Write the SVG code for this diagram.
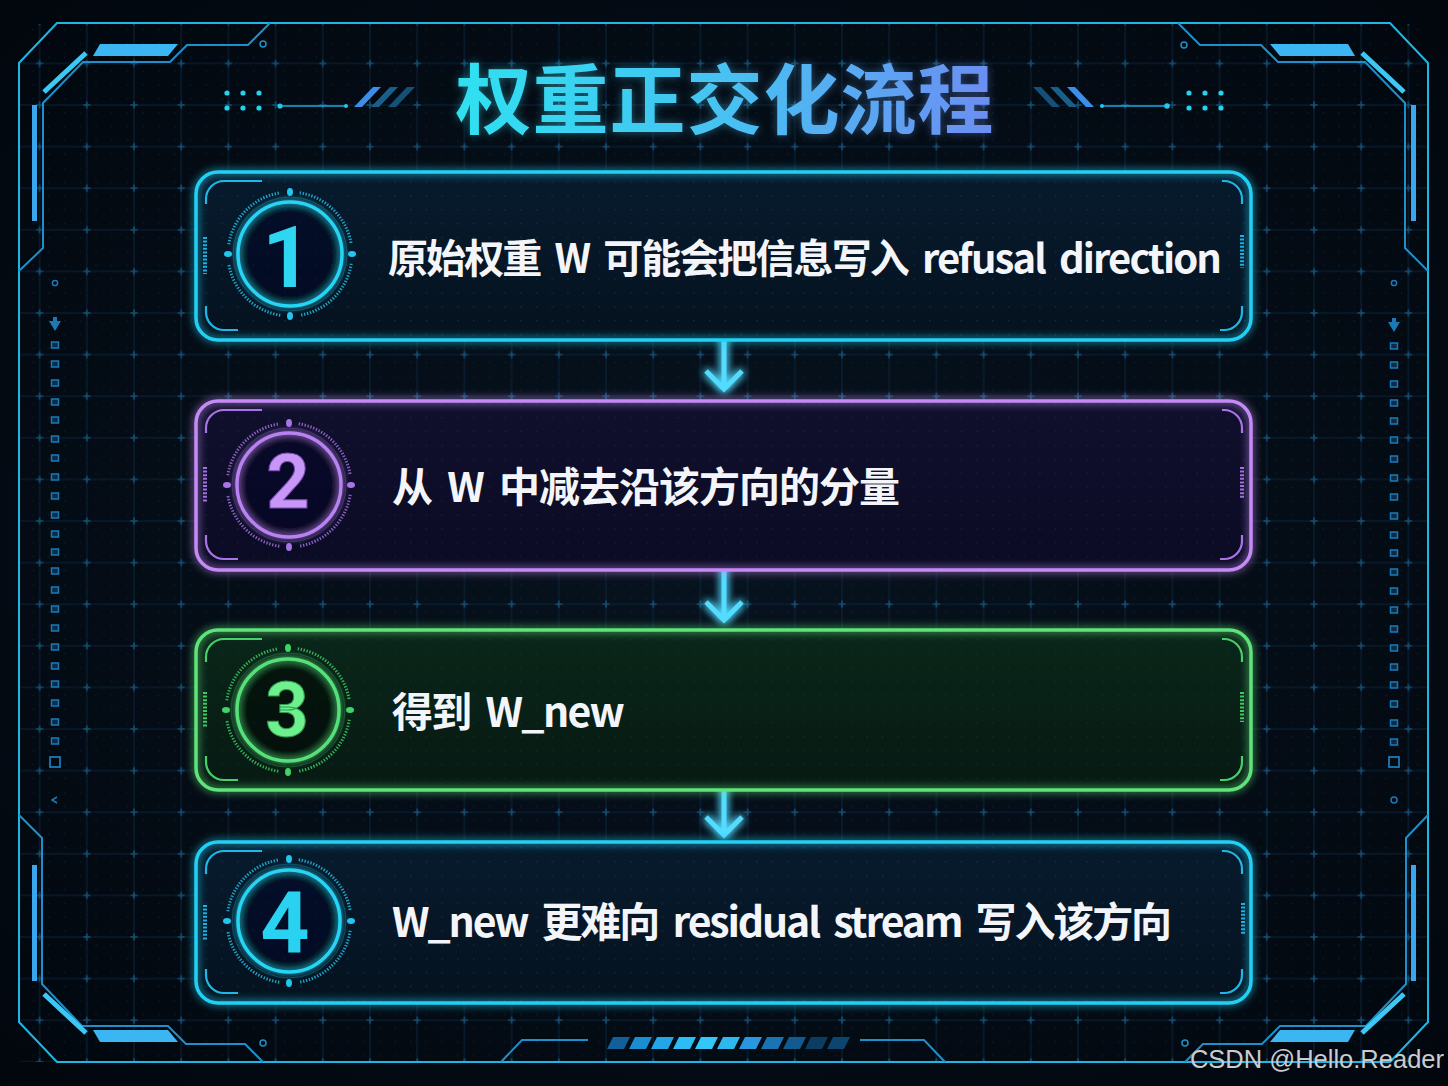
<svg xmlns="http://www.w3.org/2000/svg" xmlns:xlink="http://www.w3.org/1999/xlink" width="1448" height="1086" viewBox="0 0 1448 1086">
<defs>
<style>
.fr{fill:none;stroke:#1fb6e2;stroke-width:2}
.frb{fill:none;stroke:#1e8fc8;stroke-width:2}
.acc{fill:#3cb6f2}
.sq{fill:#0a2c48;stroke:#1b7ab6;stroke-width:1.5}
.txt{font-family:"Noto Sans CJK SC","Noto Sans",sans-serif;font-weight:700;fill:#f3f5f9;word-spacing:7px}
.num{font-family:Roboto,"Liberation Sans",sans-serif;font-weight:700;text-anchor:middle}
.br{fill:none;stroke-width:2.2}
.bc{stroke-width:4;stroke-dasharray:2 1.6}
.arr{fill:none;stroke:#52dcff;stroke-width:5;stroke-linecap:butt;stroke-linejoin:miter}
</style>
<radialGradient id="bg" cx="50%" cy="50%" r="70%">
<stop offset="0" stop-color="#07131f"/>
<stop offset="1" stop-color="#02070e"/>
</radialGradient>
<linearGradient id="tg" x1="458" y1="0" x2="992" y2="0" gradientUnits="userSpaceOnUse">
<stop offset="0" stop-color="#2fe0f0"/>
<stop offset="0.5" stop-color="#47c2f2"/>
<stop offset="1" stop-color="#6c8ef2"/>
</linearGradient>
<linearGradient id="f1" x1="0" y1="0" x2="0" y2="1"><stop offset="0" stop-color="#071b2e"/><stop offset="1" stop-color="#05121f"/></linearGradient>
<linearGradient id="f2" x1="0" y1="0" x2="0" y2="1"><stop offset="0" stop-color="#10102e"/><stop offset="1" stop-color="#0b0b24"/></linearGradient>
<linearGradient id="f3" x1="0" y1="0" x2="0" y2="1"><stop offset="0" stop-color="#0a2619"/><stop offset="1" stop-color="#071a13"/></linearGradient>
<pattern id="grid" x="63.2" y="84.2" width="47.2" height="41.6" patternUnits="userSpaceOnUse">
<path d="M23.6,0 V41.6 M0,20.8 H47.2" stroke="#0a243b" stroke-width="1"/>
<path d="M20.1,20.8 H27.1 M23.6,17.3 V24.3" stroke="#134f75" stroke-width="1.6"/>
</pattern>
<pattern id="fine" x="1" y="1" width="15.73" height="13.87" patternUnits="userSpaceOnUse">
<rect width="1.4" height="1.4" fill="#123a58"/>
</pattern>
<filter id="glow" x="-10%" y="-30%" width="120%" height="160%">
<feGaussianBlur in="SourceGraphic" stdDeviation="4" result="b"/>
<feMerge><feMergeNode in="b"/><feMergeNode in="SourceGraphic"/></feMerge>
</filter>
<filter id="glowS" x="-50%" y="-50%" width="200%" height="200%">
<feGaussianBlur in="SourceGraphic" stdDeviation="3" result="b"/>
<feMerge><feMergeNode in="b"/><feMergeNode in="SourceGraphic"/></feMerge>
</filter>
<filter id="glowT" x="-10%" y="-30%" width="120%" height="160%">
<feGaussianBlur in="SourceGraphic" stdDeviation="5" result="b"/>
<feComponentTransfer in="b" result="c"><feFuncA type="linear" slope="0.45"/></feComponentTransfer>
<feMerge><feMergeNode in="c"/><feMergeNode in="SourceGraphic"/></feMerge>
</filter>
<filter id="glowA" x="-150%" y="-50%" width="400%" height="200%">
<feGaussianBlur in="SourceGraphic" stdDeviation="4" result="b"/>
<feMerge><feMergeNode in="b"/><feMergeNode in="b"/><feMergeNode in="SourceGraphic"/></feMerge>
</filter>
<g id="ring">
<circle r="57" fill="none" stroke="currentColor" stroke-width="1" opacity="0.25"/>
<path d="M61.24,9.7 A62,62 0 0 1 9.7,61.24 M-9.7,61.24 A62,62 0 0 1 -61.24,9.7 M-61.24,-9.7 A62,62 0 0 1 -9.7,-61.24 M9.7,-61.24 A62,62 0 0 1 61.24,-9.7" fill="none" stroke="currentColor" stroke-width="3" stroke-dasharray="1.4 1.6" opacity="0.8"/>
<ellipse cx="0" cy="-62" rx="3" ry="4" fill="currentColor"/>
<ellipse cx="0" cy="62" rx="3" ry="4" fill="currentColor"/>
<ellipse cx="-62" cy="0" rx="4" ry="3" fill="currentColor"/>
<ellipse cx="62" cy="0" rx="4" ry="3" fill="currentColor"/>
</g>
</defs>

<!-- background -->
<rect width="1448" height="1086" fill="url(#bg)"/>
<rect x="20" y="24" width="1408" height="1038" fill="url(#fine)" opacity="0.4"/>
<rect x="20" y="24" width="1408" height="1038" fill="url(#grid)"/>

<!-- frame -->
<g id="frame">
<path class="fr" d="M57,23 H1390 L1428,63 V1022 L1390,1062 H57 L19,1022 V63 Z"/>
<path class="frb" d="M270,23 L248,45 H187 L170,62 H83 L43,103 V248 L19,271"/>
<path class="frb" d="M1178,23 L1200,45 H1261 L1278,62 H1365 L1405,103 V248 L1428,271"/>
<path class="frb" d="M263,1062 L245,1044 H186 L168,1026 H82 L42,984 V838 L19,815"/>
<path class="frb" d="M1185,1062 L1203,1044 H1262 L1280,1026 H1366 L1406,984 V838 L1428,815"/>
<path class="frb" d="M501,1062 L522,1040 H588 M860,1040 H924 L945,1062"/>
<polygon class="acc" points="100,44 178,44 168,56 93,56"/>
<polygon class="acc" points="1270,44 1348,44 1355,56 1280,56"/>
<polygon class="acc" points="93,1030 168,1030 178,1042 100,1042"/>
<polygon class="acc" points="1280,1030 1355,1030 1348,1042 1270,1042"/>
<path d="M86,53 L44,92 M1362,53 L1404,92 M86,1033 L44,994 M1362,1033 L1404,994" stroke="#3cc8f4" stroke-width="5"/>
<rect x="32" y="105" width="5" height="116" fill="#3aa6ee"/>
<rect x="1411" y="105" width="5" height="116" fill="#3aa6ee"/>
<rect x="32" y="865" width="5" height="116" fill="#3aa6ee"/>
<rect x="1411" y="865" width="5" height="116" fill="#3aa6ee"/>
<g fill="none" stroke="#1e8fc8" stroke-width="1.5">
<circle cx="263" cy="44" r="3"/>
<circle cx="1184" cy="45" r="3"/>
<circle cx="263" cy="1043" r="3"/>
<circle cx="1185" cy="1043" r="3"/>
</g>
<g>
<polygon points="607,1049 613,1037 630,1037 624,1049" fill="#11609a"/>
<polygon points="629,1049 635,1037 652,1037 646,1049" fill="#1a8ed2"/>
<polygon points="651,1049 657,1037 674,1037 668,1049" fill="#22a6e8"/>
<polygon points="673,1049 679,1037 696,1037 690,1049" fill="#2cbdf4"/>
<polygon points="695,1049 701,1037 718,1037 712,1049" fill="#33c6f6"/>
<polygon points="717,1049 723,1037 740,1037 734,1049" fill="#2eb8f0"/>
<polygon points="739,1049 745,1037 762,1037 756,1049" fill="#2a96e0"/>
<polygon points="761,1049 767,1037 784,1037 778,1049" fill="#1a74b4"/>
<polygon points="783,1049 789,1037 806,1037 800,1049" fill="#125a90"/>
<polygon points="805,1049 811,1037 828,1037 822,1049" fill="#0b3c62"/>
<polygon points="827,1049 833,1037 850,1037 844,1049" fill="#0c4670"/>
</g>
</g>

<!-- side markers -->
<g id="side-left">
<circle cx="55" cy="283" r="2.6" fill="none" stroke="#1b7ab6" stroke-width="1.5"/>
<path d="M49,321 H61 L55,331 Z M53,317 H57 V325 H53 Z" fill="#1b7ab6"/>
<rect class="sq" x="51.5" y="342" width="7" height="6"/><rect class="sq" x="51.5" y="361" width="7" height="6"/><rect class="sq" x="51.5" y="380" width="7" height="6"/><rect class="sq" x="51.5" y="399" width="7" height="6"/><rect class="sq" x="51.5" y="417" width="7" height="6"/><rect class="sq" x="51.5" y="436" width="7" height="6"/><rect class="sq" x="51.5" y="455" width="7" height="6"/><rect class="sq" x="51.5" y="474" width="7" height="6"/><rect class="sq" x="51.5" y="493" width="7" height="6"/><rect class="sq" x="51.5" y="512" width="7" height="6"/><rect class="sq" x="51.5" y="531" width="7" height="6"/><rect class="sq" x="51.5" y="549" width="7" height="6"/><rect class="sq" x="51.5" y="568" width="7" height="6"/><rect class="sq" x="51.5" y="587" width="7" height="6"/><rect class="sq" x="51.5" y="606" width="7" height="6"/><rect class="sq" x="51.5" y="625" width="7" height="6"/><rect class="sq" x="51.5" y="644" width="7" height="6"/><rect class="sq" x="51.5" y="663" width="7" height="6"/><rect class="sq" x="51.5" y="681" width="7" height="6"/><rect class="sq" x="51.5" y="700" width="7" height="6"/><rect class="sq" x="51.5" y="719" width="7" height="6"/><rect class="sq" x="51.5" y="738" width="7" height="6"/>
<rect x="50" y="757" width="10" height="10" fill="none" stroke="#1b7ab6" stroke-width="1.8"/>
<path d="M57,797 L52,800 L57,803" fill="none" stroke="#1b7ab6" stroke-width="1.5"/>
</g>
<g id="side-right">
<circle cx="1394" cy="283" r="2.6" fill="none" stroke="#1b7ab6" stroke-width="1.5"/>
<path d="M1388,322 H1400 L1394,332 Z M1392,318 H1396 V326 H1392 Z" fill="#1b7ab6"/>
<rect class="sq" x="1390.5" y="343" width="7" height="6"/><rect class="sq" x="1390.5" y="362" width="7" height="6"/><rect class="sq" x="1390.5" y="381" width="7" height="6"/><rect class="sq" x="1390.5" y="400" width="7" height="6"/><rect class="sq" x="1390.5" y="418" width="7" height="6"/><rect class="sq" x="1390.5" y="437" width="7" height="6"/><rect class="sq" x="1390.5" y="456" width="7" height="6"/><rect class="sq" x="1390.5" y="475" width="7" height="6"/><rect class="sq" x="1390.5" y="494" width="7" height="6"/><rect class="sq" x="1390.5" y="513" width="7" height="6"/><rect class="sq" x="1390.5" y="532" width="7" height="6"/><rect class="sq" x="1390.5" y="550" width="7" height="6"/><rect class="sq" x="1390.5" y="569" width="7" height="6"/><rect class="sq" x="1390.5" y="588" width="7" height="6"/><rect class="sq" x="1390.5" y="607" width="7" height="6"/><rect class="sq" x="1390.5" y="626" width="7" height="6"/><rect class="sq" x="1390.5" y="645" width="7" height="6"/><rect class="sq" x="1390.5" y="664" width="7" height="6"/><rect class="sq" x="1390.5" y="682" width="7" height="6"/><rect class="sq" x="1390.5" y="701" width="7" height="6"/><rect class="sq" x="1390.5" y="720" width="7" height="6"/><rect class="sq" x="1390.5" y="739" width="7" height="6"/>
<rect x="1389" y="757" width="10" height="10" fill="none" stroke="#1b7ab6" stroke-width="1.8"/>
<circle cx="1394" cy="800" r="3" fill="none" stroke="#1b7ab6" stroke-width="1.5"/>
</g>

<!-- title -->
<g id="title">
<g fill="#22d3ee">
<circle cx="227" cy="93" r="2.6"/><circle cx="243" cy="93" r="2.6"/><circle cx="259" cy="93" r="2.6"/>
<circle cx="227" cy="108" r="2.6"/><circle cx="243" cy="108" r="2.6"/><circle cx="259" cy="108" r="2.6"/>
<circle cx="1189" cy="93" r="2.6"/><circle cx="1205" cy="93" r="2.6"/><circle cx="1221" cy="93" r="2.6"/>
<circle cx="1189" cy="108" r="2.6"/><circle cx="1205" cy="108" r="2.6"/><circle cx="1221" cy="108" r="2.6"/>
</g>
<path d="M280,106 H346 M1102,106 H1167" stroke="#1fa8d8" stroke-width="1.6"/>
<circle cx="280" cy="106" r="2.6" fill="#22c8ee"/><circle cx="346" cy="106" r="2" fill="#22c8ee"/>
<circle cx="1102" cy="106" r="2" fill="#22c8ee"/><circle cx="1167" cy="106" r="2.8" fill="#22c8ee"/>
<polygon points="354,107 362,107 381,87 373,87" fill="#3d8ee8"/>
<polygon points="371,107 379,107 398,87 390,87" fill="#1a5f8a"/>
<polygon points="388,107 396,107 415,87 407,87" fill="#164f78"/>
<polygon points="1094,107 1086,107 1067,87 1075,87" fill="#3d8ee8"/>
<polygon points="1077,107 1069,107 1050,87 1058,87" fill="#1a5f8a"/>
<polygon points="1060,107 1052,107 1033,87 1041,87" fill="#164f78"/>
<text x="725" y="128" text-anchor="middle" font-family="'Noto Sans CJK SC','Noto Sans CJK JP',sans-serif" font-weight="700" font-size="76" letter-spacing="1" fill="url(#tg)" filter="url(#glowT)">权重正交化流程</text>
</g>

<!-- connectors -->
<g id="connectors" filter="url(#glowA)">
<path class="arr" d="M724,329 V387 M706,371 L724,389 L742,371"/>
<path class="arr" d="M724,560 V618 M706,602 L724,620 L742,602"/>
<path class="arr" d="M724,777 V833 M706,817 L724,835 L742,817"/>
</g>

<!-- step 1 -->
<g id="step1">
<rect x="196" y="172" width="1055" height="168" rx="22" fill="url(#f1)"/>
<rect x="196" y="172" width="1055" height="168" rx="22" fill="url(#fine)" opacity="0.7"/>
<rect x="196" y="172" width="1055" height="168" rx="22" fill="none" stroke="#22d0f5" stroke-width="3.5" filter="url(#glow)"/>
<path class="br" stroke="#1fb8e6" d="M206,204 V199 A18,18 0 0 1 224,181 H262 M206,306 V312 A18,18 0 0 0 224,330 H238 M1222,181 H1224 A18,18 0 0 1 1242,199 V204 M1242,306 V312 A18,18 0 0 1 1224,330 H1220"/>
<path class="bc" stroke="#1fb0e0" d="M205,237 V274 M1242,235 V268"/>
<use xlink:href="#ring" x="290" y="254" style="color:#22c6ee"/>
<circle cx="290" cy="254" r="52" fill="#04111e" fill-opacity="0.25" stroke="#26d4f4" stroke-width="3.5" filter="url(#glowS)"/>
<text class="num" x="287" y="287" font-size="86" fill="#2fd6f2">1</text>
<text class="txt" x="388" y="273" font-size="40" textLength="834">原始权重 W 可能会把信息写入 refusal direction</text>
</g>

<!-- step 2 -->
<g id="step2">
<rect x="196" y="401" width="1055" height="169" rx="22" fill="url(#f2)"/>
<rect x="196" y="401" width="1055" height="169" rx="22" fill="url(#fine)" opacity="0.5"/>
<rect x="196" y="401" width="1055" height="169" rx="22" fill="none" stroke="#c58af5" stroke-width="3.5" filter="url(#glow)"/>
<path class="br" stroke="#a874e6" d="M206,433 V428 A18,18 0 0 1 224,410 H262 M206,535 V541 A18,18 0 0 0 224,559 H238 M1222,410 H1224 A18,18 0 0 1 1242,428 V433 M1242,535 V541 A18,18 0 0 1 1224,559 H1220"/>
<path class="bc" stroke="#a070e0" d="M205,467 V503 M1242,467 V498"/>
<use xlink:href="#ring" x="289" y="485" style="color:#a874e6"/>
<circle cx="289" cy="485" r="52" fill="#0a0a22" fill-opacity="0.25" stroke="#b982f2" stroke-width="3.5" filter="url(#glowS)"/>
<text class="num" x="288" y="508" font-size="76" fill="#c796f6" stroke="#7a4ab8" stroke-width="1">2</text>
<text class="txt" x="392" y="502" font-size="41" textLength="508">从 W 中减去沿该方向的分量</text>
</g>

<!-- step 3 -->
<g id="step3">
<rect x="196" y="630" width="1055" height="160" rx="22" fill="url(#f3)"/>
<rect x="196" y="630" width="1055" height="160" rx="22" fill="url(#fine)" opacity="0.5"/>
<rect x="196" y="630" width="1055" height="160" rx="22" fill="none" stroke="#5ee37a" stroke-width="3.5" filter="url(#glow)"/>
<path class="br" stroke="#46d06a" d="M206,662 V657 A18,18 0 0 1 224,639 H262 M206,756 V762 A18,18 0 0 0 224,780 H238 M1222,639 H1224 A18,18 0 0 1 1242,657 V662 M1242,756 V762 A18,18 0 0 1 1224,780 H1220"/>
<path class="bc" stroke="#3ec862" d="M205,692 V728 M1242,692 V722"/>
<use xlink:href="#ring" x="288" y="710" style="color:#3fd468"/>
<circle cx="288" cy="710" r="51" fill="#05140c" fill-opacity="0.25" stroke="#55e07a" stroke-width="3.5" filter="url(#glowS)"/>
<text class="num" x="287" y="736" font-size="76" fill="#6ef08e" stroke="#2f9a4e" stroke-width="1">3</text>
<text class="txt" x="392" y="727" font-size="41" textLength="233">得到 W_new</text>
</g>

<!-- step 4 -->
<g id="step4">
<rect x="196" y="842" width="1055" height="161" rx="22" fill="url(#f1)"/>
<rect x="196" y="842" width="1055" height="161" rx="22" fill="url(#fine)" opacity="0.7"/>
<rect x="196" y="842" width="1055" height="161" rx="22" fill="none" stroke="#22d0f5" stroke-width="3.5" filter="url(#glow)"/>
<path class="br" stroke="#1fb8e6" d="M206,874 V869 A18,18 0 0 1 224,851 H262 M206,969 V975 A18,18 0 0 0 224,993 H238 M1222,851 H1224 A18,18 0 0 1 1242,869 V874 M1242,969 V975 A18,18 0 0 1 1224,993 H1220"/>
<path class="bc" stroke="#1fb0e0" d="M205,905 V940 M1243,903 V934"/>
<use xlink:href="#ring" x="289" y="921" style="color:#22c6ee"/>
<circle cx="289" cy="921" r="51" fill="#04111e" fill-opacity="0.25" stroke="#26d4f4" stroke-width="3.5" filter="url(#glowS)"/>
<text class="num" x="285" y="952" font-size="86" fill="#2ad2f2">4</text>
<text class="txt" x="392" y="937" font-size="41" textLength="780">W_new 更难向 residual stream 写入该方向</text>
</g>

<!-- watermark -->
<text x="1444" y="1068" text-anchor="end" font-family="'Liberation Sans',Arial,sans-serif" font-size="25.5" fill="#c9ccd0">CSDN @Hello.Reader</text>
</svg>
